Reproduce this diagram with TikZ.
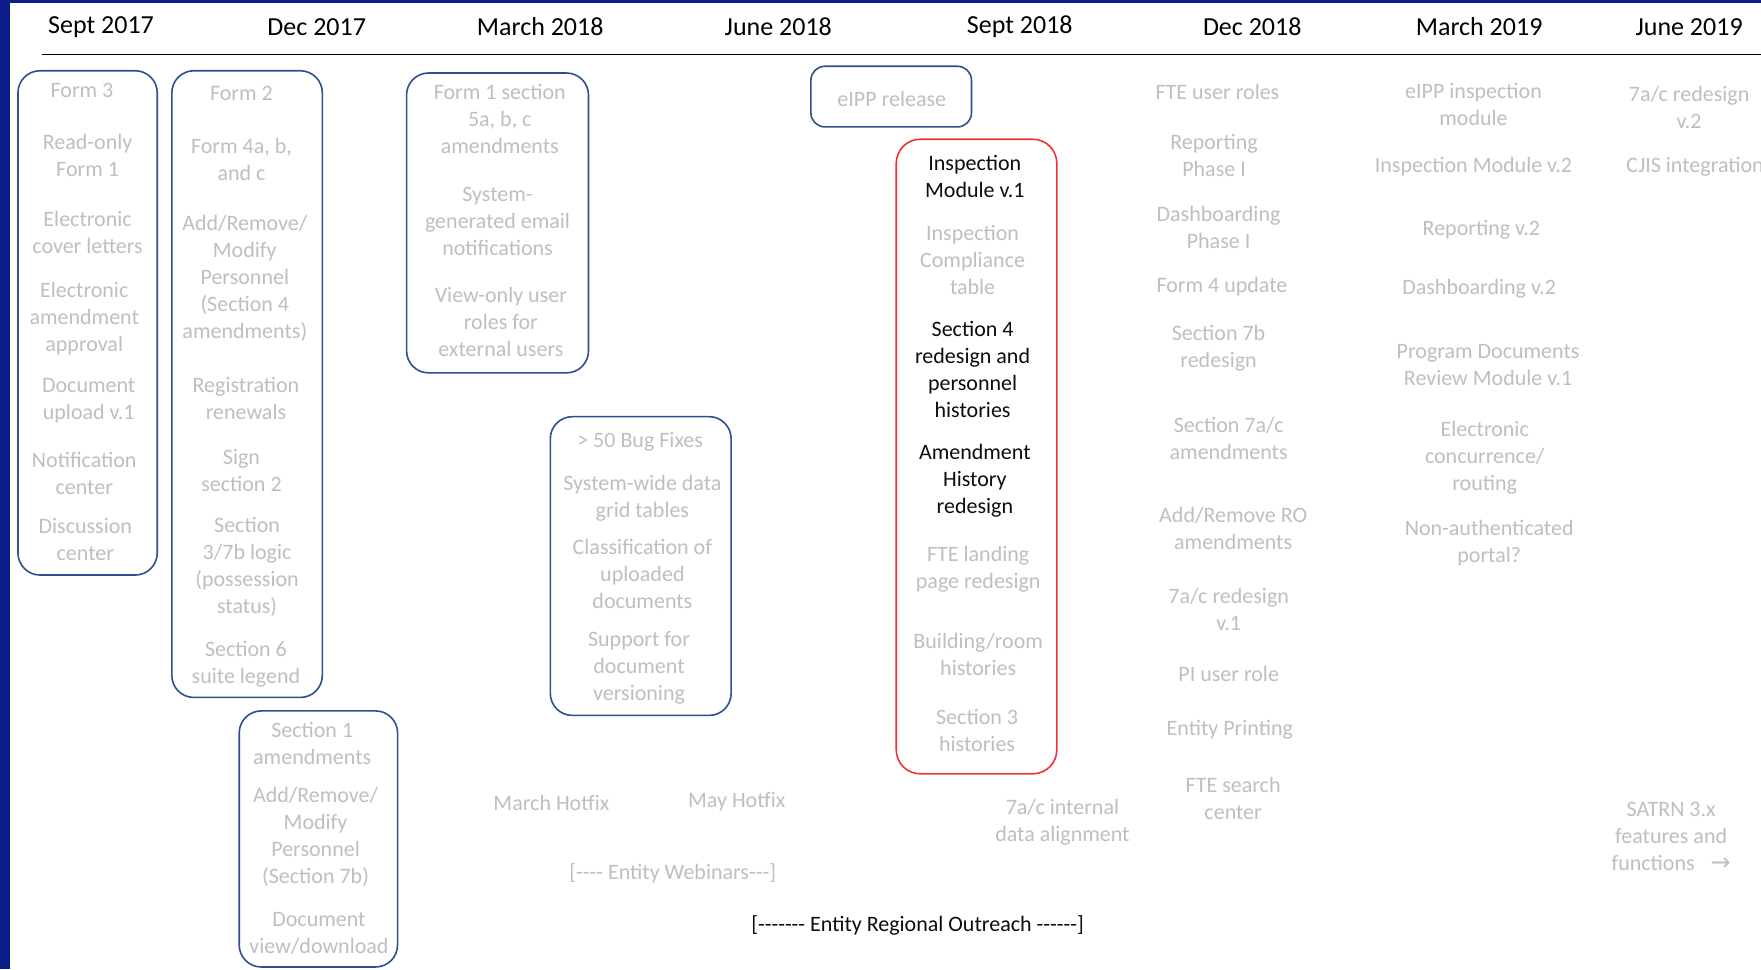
\documentclass[tikz,border=0pt]{standalone}
\usepackage{fontspec}
\setmainfont{Carlito}
\newfontfamily\symfont{DejaVu Sans}
\definecolor{frameblue}{RGB}{12,30,140}
\definecolor{boxblue}{RGB}{47,80,143}
\definecolor{boxred}{RGB}{240,50,50}
\definecolor{itemgray}{RGB}{191,191,191}
\definecolor{darktext}{RGB}{13,13,13}
\begin{document}
\begin{tikzpicture}[x=1.1231pt,y=-1.1231pt,
  every node/.style={inner sep=0pt, align=center, yshift=-2pt, font=\fontsize{22}{27}\selectfont},
  hdr/.style={font=\fontsize{26}{30}\selectfont, text=black},
  gitem/.style={text=itemgray},
  bitem/.style={text=darktext},
  bluebox/.style={draw=boxblue, line width=1.6pt, rounded corners=22pt},
  redbox/.style={draw=boxred, line width=1.6pt, rounded corners=24pt}]
\useasboundingbox (0,0) rectangle (1568,863);
\fill[white] (0,0) rectangle (1568,863);
\fill[frameblue] (0,0) rectangle (9,863);
\fill[frameblue] (0,0) rectangle (1568,3);
% headers
\node[hdr] (h1) at (90,22) {Sept 2017};
\node[hdr] (h2) at (282,22) {Dec 2017};
\node[hdr] (h3) at (481,22) {March 2018};
\node[hdr] (h4) at (693,22) {June 2018};
\node[hdr] (h5) at (908,22) {Sept 2018};
\node[hdr] (h6) at (1115,22) {Dec 2018};
\node[hdr] (h7) at (1317,22) {March 2019};
\node[hdr] (h8) at (1504,22) {June 2019};
\coordinate (ls) at (37,47);
\coordinate (le) at (1568,47);
\draw[line width=1.2pt, black] (ls) -- (le);
% boxes
\draw[bluebox] (16,63) rectangle (140,512);
\draw[bluebox] (153,63) rectangle (287,621);
\draw[bluebox] (213,633) rectangle (354,861);
\draw[bluebox] (362,65) rectangle (524,332);
\draw[bluebox] (490,371) rectangle (651,637);
\draw[bluebox, rounded corners=14pt] (722,59) rectangle (865,113);
\draw[redbox] (798,124) rectangle (941,689);
% box 1
\node[gitem] (f3) at (73,79) {Form 3};
\node[gitem] (ro1) at (78,137) {Read-only\\Form 1};
\node[gitem] (ecl) at (78,205) {Electronic\\cover letters};
\node[gitem] (eaa) at (75,282) {Electronic\\amendment\\approval};
\node[gitem] (du1) at (79,355) {Document\\upload v.1};
\node[gitem] (nc) at (75,420) {Notification\\center};
\node[gitem] (dc) at (76,479) {Discussion\\center};
% box 2
\node[gitem] (f2) at (215,81) {Form 2};
\node[gitem] (f4) at (215,140) {Form 4a, b,\\and c};
\node[gitem] (arm) at (218,246) {Add/Remove/\\Modify\\Personnel\\(Section 4\\amendments)};
\node[gitem] (rr) at (219,353) {Registration\\renewals};
\node[gitem] (ss2) at (215,417) {Sign\\section 2};
\node[gitem] (s37) at (220,503) {Section\\3/7b logic\\(possession\\status)};
\node[gitem] (s6) at (219,590) {Section 6\\suite legend};
% box 3
\node[gitem] (s1) at (278,660) {Section 1\\amendments};
\node[gitem] (arm7) at (281,743) {Add/Remove/\\Modify\\Personnel\\(Section 7b)};
\node[gitem] (dvd) at (284,829) {Document\\view/download};
% box 4
\node[gitem] (f1s) at (445,104) {Form 1 section\\5a, b, c\\amendments};
\node[gitem] (sge) at (443,195) {System-\\generated email\\notifications};
\node[gitem] (vou) at (446,285) {View-only user\\roles for\\external users};
% box 5
\node[gitem] (bug) at (570,392) {> 50 Bug Fixes};
\node[gitem] (swd) at (572,442) {System-wide data\\grid tables};
\node[gitem] (cls) at (572,509) {Classification of\\uploaded\\documents};
\node[gitem] (sdv) at (569,593) {Support for\\document\\versioning};
% eIPP
\node[gitem] (eipp) at (794,86) {eIPP release};
% red box
\node[bitem] (im1) at (868,155) {Inspection\\Module v.1};
\node[gitem] (ict) at (866,230) {Inspection\\Compliance\\table};
\node[bitem] (s4r) at (866,327) {Section 4\\redesign and\\personnel\\histories};
\node[bitem] (ahr) at (868,426) {Amendment\\History\\redesign};
\node[gitem] (ftel) at (871,505) {FTE landing\\page redesign};
\node[gitem] (brh) at (871,581) {Building/room\\histories};
\node[gitem] (s3h) at (870,649) {Section 3\\histories};
% free texts
\node[gitem] (mh) at (491,713) {March Hotfix};
\node[gitem] (myh) at (656,712) {May Hotfix};
\node[gitem] (web) at (599,776) {[-{}-{}-{}- Entity Webinars-{}-{}-]};
\node[bitem] (reg) at (817,822) {[-{}-{}-{}-{}-{}-{}- Entity Regional Outreach -{}-{}-{}-{}-{}-]};
\node[gitem] (int) at (946,730) {7a/c internal\\data alignment};
% Dec 2018
\node[gitem] (ftur) at (1084,80) {FTE user roles};
\node[gitem] (rp1) at (1081,137) {Reporting\\Phase I};
\node[gitem] (db1) at (1085,201) {Dashboarding\\Phase I};
\node[gitem] (f4u) at (1088,253) {Form 4 update};
\node[gitem] (s7b) at (1085,308) {Section 7b\\redesign};
\node[gitem] (s7ac) at (1094,389) {Section 7a/c\\amendments};
\node[gitem] (arro) at (1098,469) {Add/Remove RO\\amendments};
\node[gitem] (r71) at (1094,541) {7a/c redesign\\v.1};
\node[gitem] (pi) at (1094,598) {PI user role};
\node[gitem] (ep) at (1095,648) {Entity Printing};
\node[gitem] (fsc) at (1098,709) {FTE search\\center};
% March 2019
\node[gitem] (eim) at (1312,91) {eIPP inspection\\module};
\node[gitem] (im2) at (1312,147) {Inspection Module v.2};
\node[gitem] (rp2) at (1319,203) {Reporting v.2};
\node[gitem] (db2) at (1317,255) {Dashboarding v.2};
\node[gitem] (pdr) at (1325,323) {Program Documents\\Review Module v.1};
\node[gitem] (ecr) at (1322,406) {Electronic\\concurrence/\\routing};
\node[gitem] (nap) at (1326,482) {Non-authenticated\\portal?};
% June 2019
\node[gitem] (r72) at (1504,94) {7a/c redesign\\v.2};
\node[gitem, anchor=west] (cjis) at (1448,147) {CJIS integration};
\node[gitem] (satrn) at (1488,743) {SATRN 3.x\\features and\\functions\hspace{16pt}{\symfont\fontsize{24}{27}\selectfont →}};
\end{tikzpicture}
\end{document}
